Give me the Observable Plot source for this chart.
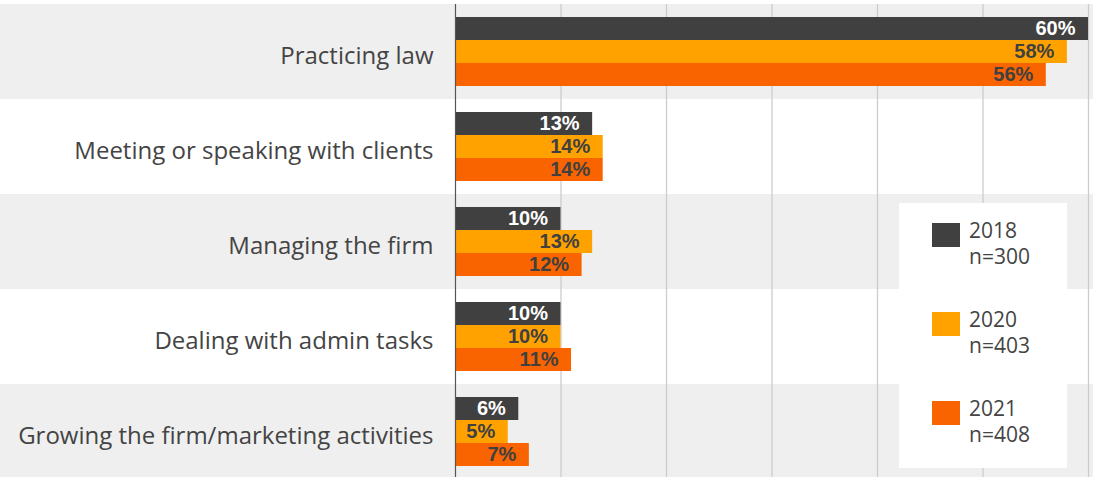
<!DOCTYPE html>
<html><head><meta charset="utf-8">
<script src="https://cdn.jsdelivr.net/npm/d3@7"></script>
<script src="https://cdn.jsdelivr.net/npm/@observablehq/plot@0.6"></script>
<style>
body{margin:0;background:#fff;}
#wrap{position:relative;width:1093px;height:477px;font-family:"Open Sans",sans-serif;overflow:hidden;}
#legend{position:absolute;left:899px;top:203px;width:168px;height:265px;background:#fff;}
.item{position:absolute;left:0;height:60px;width:168px;}
.sw{position:absolute;left:33px;top:0;width:28px;height:24px;}
.lt{position:absolute;left:70px;top:-6px;font-size:21px;line-height:26px;color:#444;}
</style></head><body><div id="wrap"></div>
<script>
const categories = ["Practicing law","Meeting or speaking with clients","Managing the firm","Dealing with admin tasks","Growing the firm/marketing activities"];
const years = ["2018","2020","2021"];
const sampleSizes = ["n=300","n=403","n=408"];
const values2018 = [60,13,10,10,6];
const values2020 = [58,14,13,10,5];
const values2021 = [56,14,12,11,7];
const xTicks = [0,10,20,30,40,50,60];
const colors = ["#404040","#ffa200","#fa6400"];

const series = [values2018, values2020, values2021];
const rows = [];
categories.forEach((c,i)=>{
  series.forEach((vals,j)=> rows.push({category:c, year:years[j], value:vals[i], shade:i%2===0}));
});

const valueFont = "'Liberation Sans', Arial, sans-serif";
const chart = Plot.plot({
  width:1093, height:477,
  marginLeft:455, marginRight:5, marginTop:3, marginBottom:-3,
  style:{fontFamily:"'Open Sans', sans-serif", fontSize:"22px", color:"#444", background:"transparent", overflow:"visible"},
  facet:{data:rows, y:"category"},
  fy:{domain:categories, padding:0, axis:null},
  y:{domain:years, axis:null, paddingInner:0, paddingOuter:0.5},
  x:{domain:[xTicks[0], xTicks[xTicks.length-1]], axis:null},
  color:{domain:years, range:colors},
  marks:[
    Plot.barX(rows, Plot.filter(d=>d.shade && d.year===years[0], {x1:()=>xTicks[0], x2:()=>xTicks[xTicks.length-1], fill:"#efefef", insetLeft:-455, insetRight:-5})),
    Plot.ruleX(xTicks.slice(1), {stroke:"#cccccc", strokeWidth:1.3}),
    Plot.barX(rows, {x:"value", y:"year", fill:"year"}),
    Plot.ruleX([xTicks[0]], {stroke:"#555", strokeWidth:1.2}),
    Plot.text(rows, Plot.filter(d=>d.year===years[0], {text:"category", frameAnchor:"left", textAnchor:"end", dx:-22, dy:4, fill:"#444", fontSize:24})),
    Plot.text(rows, Plot.filter(d=>d.year===years[0], {x:"value", y:"year", text:d=>d.value+"%", textAnchor:"end", dx:-13, fill:"#fff", fontWeight:"bold", fontSize:20, fontFamily:valueFont})),
    Plot.text(rows, Plot.filter(d=>d.year!==years[0], {x:"value", y:"year", text:d=>d.value+"%", textAnchor:"end", dx:-13, fill:"#404040", fontWeight:"bold", fontSize:20, fontFamily:valueFont}))
  ]
});
const wrap = document.getElementById("wrap");
wrap.appendChild(chart);

const legend = document.createElement("div");
legend.id = "legend";
years.forEach((y,i)=>{
  const it = document.createElement("div");
  it.className = "item";
  it.style.top = (20 + i*89) + "px";
  it.innerHTML = `<div class="sw" style="background:${colors[i]}"></div><div class="lt">${y}<br>${sampleSizes[i]}</div>`;
  legend.appendChild(it);
});
wrap.appendChild(legend);
</script>
</body></html>
